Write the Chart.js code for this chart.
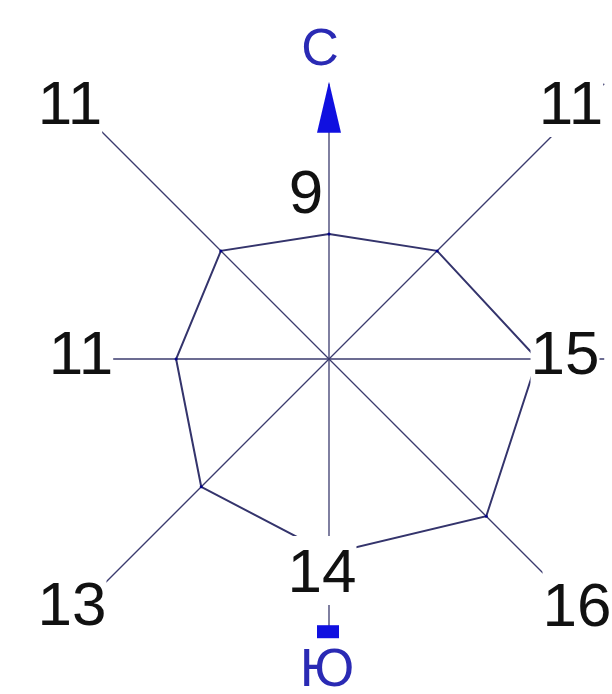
<!DOCTYPE html>
<html><head><meta charset="utf-8">
<script src="https://cdn.jsdelivr.net/npm/chart.js@4/dist/chart.umd.min.js"></script>
<style>html,body{margin:0;padding:0;background:#fff;overflow:hidden}</style>
</head><body>
<canvas id="c" width="612" height="694"></canvas>
<script>
// Wind rose data (8 directions, clockwise from North)
const directions = ['С', 'СВ', 'В', 'ЮВ', 'Ю', 'ЮЗ', 'З', 'СЗ'];
const windValues = [9, 11, 15, 16, 14, 13, 11, 11];
const valueLabels = ['9', '11', '15', '16', '14', '13', '11', '11'];
const compassLabels = ['С', 'Ю'];
const scaleMax = 20;

// layout / style settings (not data)
const spokeReach = 19.8;           // spokes run to a square of this half-size (value units)
const labelOffsets = [[-23,-168],[242,-257],[236,-7],[248,245],[-7,211],[-257,244],[-248,-7],[-259,-257]];
const lineColor = '#3b3b6e';
const blue = '#1010e0';
const textBlue = '#2a2ab4';
const FONT = '"Liberation Sans", Arial, sans-serif';

const rosePlugin = {
  id: 'rose',
  beforeDatasetsDraw(chart) {
    const s = chart.scales.r;
    const ctx = chart.ctx;
    const R = s.getDistanceFromCenterForValue(spokeReach);
    ctx.save();
    ctx.strokeStyle = lineColor;
    ctx.lineWidth = 1.3;
    for (let i = 0; i < directions.length; i++) {
      const a = s.getIndexAngle(i) - Math.PI / 2;
      const d = R / Math.max(Math.abs(Math.cos(a)), Math.abs(Math.sin(a)));
      const p = s.getPointPosition(i, d);
      ctx.beginPath();
      ctx.moveTo(s.xCenter, s.yCenter);
      ctx.lineTo(p.x, p.y);
      ctx.stroke();
    }
    ctx.restore();
  },
  afterDatasetsDraw(chart) {
    const s = chart.scales.r;
    const ctx = chart.ctx;
    const cx = s.xCenter, cy = s.yCenter;
    const R = s.getDistanceFromCenterForValue(spokeReach);
    ctx.save();
    // value labels with white backgrounds
    ctx.font = '62px ' + FONT;
    ctx.textAlign = 'center';
    ctx.textBaseline = 'alphabetic';
    valueLabels.forEach((t, i) => {
      const x = cx + labelOffsets[i][0];
      const base = cy + labelOffsets[i][1] + 22;
      const m = ctx.measureText(t);
      const asc = m.fontBoundingBoxAscent || 56, desc = m.fontBoundingBoxDescent || 13;
      ctx.fillStyle = '#fff';
      ctx.fillRect(x - m.width / 2, base - asc, m.width, asc + desc);
      ctx.fillStyle = '#111';
      ctx.fillText(t, x, base);
    });
    // north arrow
    ctx.fillStyle = blue;
    ctx.beginPath();
    ctx.moveTo(cx, cy - R - 2);
    ctx.lineTo(cx + 12, cy - R + 49);
    ctx.lineTo(cx - 12, cy - R + 49);
    ctx.closePath();
    ctx.fill();
    // south marker
    ctx.fillRect(cx - 12, cy + R - 9, 22, 13);
    // compass letters
    ctx.fillStyle = textBlue;
    ctx.textBaseline = 'middle';
    ctx.font = '52px ' + FONT;
    ctx.fillText(compassLabels[0], cx - 9, cy - R - 33);
    ctx.font = '54px ' + FONT;
    ctx.fillText(compassLabels[1], cx - 2, cy + R + 37);
    ctx.restore();
  }
};

new Chart(document.getElementById('c'), {
  type: 'radar',
  data: {
    labels: directions,
    datasets: [{
      data: windValues,
      borderColor: '#34346c',
      borderWidth: 2,
      fill: false,
      pointRadius: 1.5,
      pointBackgroundColor: '#00008b',
      pointBorderWidth: 0,
      tension: 0
    }]
  },
  options: {
    responsive: false,
    animation: false,
    devicePixelRatio: 1,
    layout: { padding: { left: 51, right: 5, top: 81, bottom: 57 } },
    plugins: { legend: { display: false }, tooltip: { enabled: false } },
    scales: {
      r: {
        min: 0,
        max: scaleMax,
        ticks: { display: false },
        grid: { display: false },
        angleLines: { display: false },
        pointLabels: { display: false }
      }
    }
  },
  plugins: [rosePlugin]
});
</script>
</body></html>
